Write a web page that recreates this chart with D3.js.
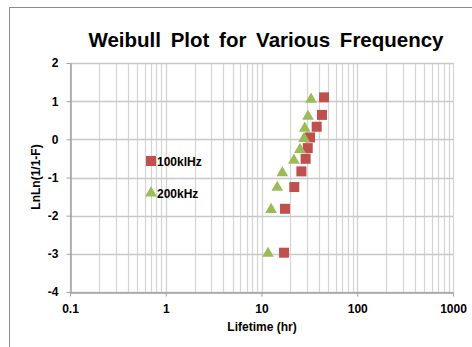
<!DOCTYPE html>
<html>
<head>
<meta charset="utf-8">
<script src="https://cdn.jsdelivr.net/npm/d3@7"></script>
<style>
  body { margin: 0; background: #fff; }
  svg { display: block; font-family: "Liberation Sans", Arial, sans-serif; }
</style>
</head>
<body>
<svg id="chart" width="472" height="347"></svg>
<script>
// 資料 (讀自圖片)
var lifetime100 = [17.2, 17.6, 22.0, 26.1, 28.9, 30.4, 32.1, 37.7, 42.8, 45.0];
var lifetime200 = [11.7, 12.6, 14.6, 16.5, 21.8, 25.2, 27.8, 28.3, 30.6, 32.9];
var lnln = [-2.97, -1.82, -1.25, -0.84, -0.51, -0.23, 0.05, 0.33, 0.64, 1.10];
var lnln200 = [-2.99, -1.84, -1.26, -0.88, -0.55, -0.27, 0.02, 0.29, 0.60, 1.05];
var xTicks = [0.1, 1, 10, 100, 1000];
var xTickLabels = ["0.1", "1", "10", "100", "1000"];
var yTicks = [-4, -3, -2, -1, 0, 1, 2];
var seriesNames = ["100klHz", "200kHz"];

var svg = d3.select("#chart");

// 外框
svg.append("rect")
  .attr("x", 9.5).attr("y", 7.5)
  .attr("width", 480).attr("height", 360)
  .attr("fill", "none").attr("stroke", "#8c8c8c");

var x = d3.scaleLog().domain([0.1, 1000]).range([70, 453]);
var y = d3.scaleLinear().domain([-4, 2]).range([292, 63]);

var g = svg.append("g");

// 格線 (對數次格線)
var minor = [];
for (var d = 0.1; d < 1000; d *= 10) {
  for (var k = 1; k <= 10; k++) minor.push(d * k);
}
g.selectAll(".vgrid").data(minor).enter().append("line")
  .attr("x1", function (v) { return Math.round(x(v)) + 0.5; })
  .attr("x2", function (v) { return Math.round(x(v)) + 0.5; })
  .attr("y1", y(2)).attr("y2", y(-4))
  .attr("stroke", "#d4d4d4").attr("stroke-width", 1.2);

g.selectAll(".hgrid").data(yTicks).enter().append("line")
  .attr("x1", x(0.1)).attr("x2", x(1000))
  .attr("y1", function (v) { return Math.round(y(v)) + 0.5; })
  .attr("y2", function (v) { return Math.round(y(v)) + 0.5; })
  .attr("stroke", "#c8c8c8").attr("stroke-width", 1.5);

// 座標軸
var xAxis = d3.axisBottom(x).tickValues(xTicks)
  .tickFormat(function (v, i) { return xTickLabels[i]; })
  .tickSizeInner(4).tickSizeOuter(0).tickPadding(6);
var yAxis = d3.axisLeft(y).tickValues(yTicks)
  .tickFormat(function (v) { return String(v); })
  .tickSizeInner(4).tickSizeOuter(0).tickPadding(8);

var gx = svg.append("g").attr("transform", "translate(0," + (Math.round(y(-4)) + 0.5) + ")").call(xAxis);
var gy = svg.append("g").attr("transform", "translate(" + (Math.round(x(0.1)) + 0.5) + ",0)").call(yAxis);
[gx, gy].forEach(function (a) {
  a.select(".domain").attr("stroke", "#a0a0a0").attr("stroke-width", 1.5);
  a.selectAll(".tick line").attr("stroke", "#a0a0a0");
  a.selectAll("text").attr("font-family", "Liberation Sans, Arial, sans-serif")
    .attr("font-size", 12).attr("font-weight", "bold").attr("fill", "#000");
});
gx.selectAll("text").attr("dy", "0.9em");

// 資料點
var red = "#C0504D", green = "#9BBB59";
svg.append("g").selectAll("rect").data(lifetime100).enter().append("rect")
  .attr("x", function (v) { return x(v) - 5; })
  .attr("y", function (v, i) { return y(lnln[i]) - 5; })
  .attr("width", 10).attr("height", 10)
  .attr("fill", red);

var tri = d3.symbol().type(d3.symbolTriangle).size(60);
svg.append("g").selectAll("path").data(lifetime200).enter().append("path")
  .attr("d", tri)
  .attr("transform", function (v, i) { return "translate(" + x(v) + "," + y(lnln200[i]) + ")"; })
  .attr("fill", green);

// 圖例
svg.append("rect").attr("x", 146).attr("y", 156).attr("width", 10).attr("height", 10).attr("fill", red);
svg.append("path").attr("d", tri).attr("transform", "translate(151,193)").attr("fill", green);
svg.append("text").attr("x", 157).attr("y", 166).attr("font-size", 12).attr("font-weight", "bold")
  .text(seriesNames[0]);
svg.append("text").attr("x", 157).attr("y", 198).attr("font-size", 12).attr("font-weight", "bold")
  .text(seriesNames[1]);

// 標題
svg.append("text").attr("x", 266).attr("y", 47).attr("text-anchor", "middle")
  .attr("font-size", 20.5).attr("font-weight", "bold").attr("word-spacing", 4)
  .text("Weibull Plot for Various Frequency");

svg.append("text").attr("x", 262).attr("y", 331).attr("text-anchor", "middle")
  .attr("font-size", 12).attr("font-weight", "bold")
  .text("Lifetime (hr)");

svg.append("text").attr("transform", "translate(40,177) rotate(-90)")
  .attr("text-anchor", "middle").attr("font-size", 12).attr("font-weight", "bold")
  .text("LnLn(1/1-F)");
</script>
</body>
</html>
